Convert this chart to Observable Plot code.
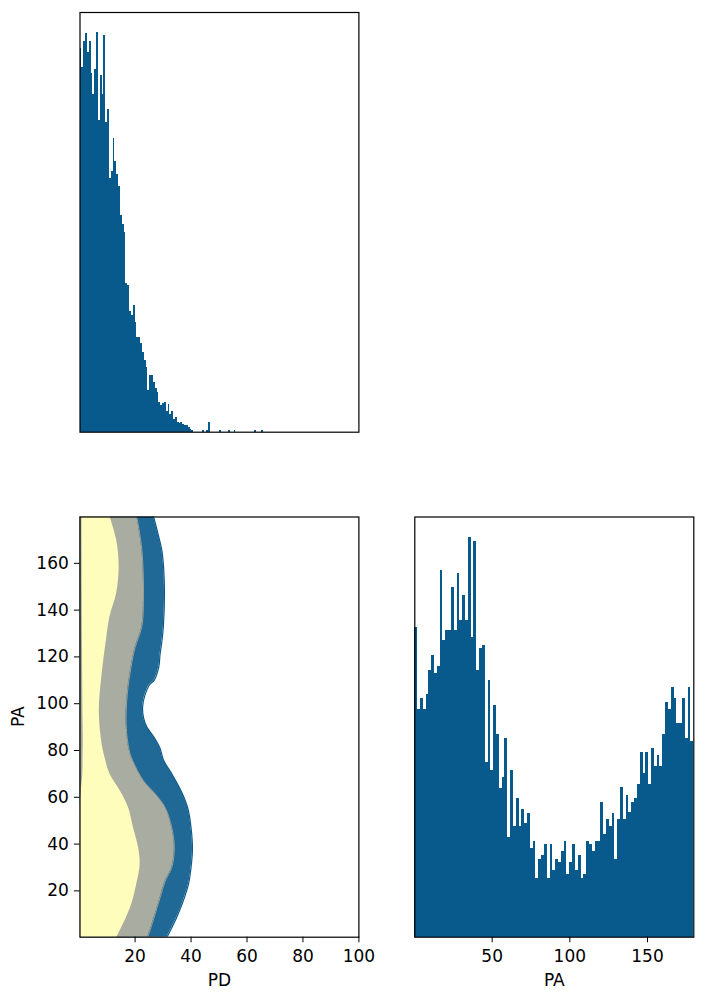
<!DOCTYPE html>
<html><head><meta charset="utf-8">
<script src="https://cdn.jsdelivr.net/npm/d3@7"></script>
<script src="https://cdn.jsdelivr.net/npm/@observablehq/plot@0.6"></script>
<style>
body{margin:0;background:#fff;}
#wrap{position:relative;width:706px;height:1001px;font-family:"DejaVu Sans",sans-serif;}
#wrap > div{position:absolute;}
</style></head><body>
<div id="wrap">
  <div id="p1" style="left:0;top:0"></div>
  <div id="p2" style="left:0;top:500px"></div>
  <div id="p3" style="left:370px;top:500px"></div>
</div>
<script>
// ---- Data ----
// PD histogram: 100 bins between pdRange[0] and pdRange[1] (relative counts)
const pdRange = [0.3, 65.9];
const pdCounts = [383,364,390,398,379,390,358,337,362,399,
311,356,337,396,309,322,253,260,293,270,
257,245,216,207,199,148,146,120,116,126,
110,95,95,89,80,72,65,42,57,57,
50,44,40,30,27,29,30,21,28,18,
21,13,15,10,9,10,8,7,7,5,
3,2,0,0,0,0,0,2,0,2,
10,0,0,0,0,0,2,0,0,0,
0,2,0,0,2,0,0,0,0,0,
0,0,0,0,0,2,0,0,0,2];

// PA histogram: bins between paRange[0] and paRange[1] (relative counts)
const paRange = [0.2, 179.8];
const paCounts = [309,227,238,227,242,266,281,263,270,366,
296,306,306,349,306,363,316,341,316,399,
299,395,266,288,291,174,256,166,231,202,
148,159,198,99,166,110,138,110,127,113,
123,88,95,59,77,81,92,59,92,
67,77,74,85,95,63,74,92,67,81,
59,63,95,92,85,95,95,134,102,117,
110,123,77,117,149,117,141,124,134,138,
152,184,163,184,152,188,170,181,170,202,
234,227,249,238,213,213,238,198,249,195];

// Axis domains and ticks
const pdDomain = [0.3, 100];
const paDomain = [0.2, 179.8];
const pdTicks = [20, 40, 60, 80, 100];
const paTicksY = [20, 40, 60, 80, 100, 120, 140, 160];
const paTicksX = [50, 100, 150];

// Contour levels: PD of the right edge of each filled region, as a function of PA
const outerPA = [0, 8, 15, 23, 30, 38, 47, 55, 62, 70, 76, 81, 86, 90, 94, 99, 104, 108, 110, 116, 121, 126, 133, 147, 158, 166, 172, 180];
const outerPD = [31.3, 34.6, 37.0, 39.1, 40.0, 40.5, 40.0, 38.9, 36.7, 33.1, 30.1, 28.9, 26.6, 24.2, 23.0, 22.7, 23.6, 25.1, 26.8, 28.5, 28.9, 29.5, 30.1, 30.5, 30.2, 29.5, 28.3, 26.6];
const midPA = [0, 8.6, 17, 24, 30, 38.6, 47, 55.7, 61.4, 67, 75.7, 80, 91, 104, 116, 124, 133, 147, 166, 180];
const midPD = [24.5, 26.8, 28.9, 30.7, 33.1, 34.0, 33.1, 30.7, 27.2, 23.0, 19.1, 17.9, 16.8, 17.2, 18.6, 20.0, 22.4, 23.0, 22.4, 20.6];
const innerPA = [0, 5.7, 14.3, 22.9, 31.4, 38.6, 47.1, 55.7, 62.9, 70, 77.1, 84.3, 97.1, 111.4, 125.7, 137.1, 147.1, 158.6, 170, 180];
const innerPD = [13.4, 15.8, 18.8, 20.6, 21.8, 21.2, 19.4, 17.6, 14.6, 11.0, 9.2, 8.0, 7.2, 8.1, 9.6, 11.0, 13.4, 14.3, 13.4, 11.0];
const innerLeftPA = [0, 55, 62, 70, 84, 100, 140, 180];
const innerLeftPD = [0.0, 0.2, 0.7, 1.3, 1.5, 1.3, 1.1, 1.0];

// ---- Styles ----
const barColor = "#08598c";
const outerFill = "#206896", outerEdge = "#0b5a8b";
const midFill = "#a9ada1", midEdge = "#9b9f95";
const innerFill = "#fefdbb";
const FONT = "DejaVu Sans";
const FS = 17;

function bins(counts, range) {
  const n = counts.length, w = (range[1] - range[0]) / n;
  return counts.map((c, i) => ({x0: range[0] + i * w, x1: range[0] + (i + 1) * w, count: c}));
}
const zipRows = (pa, pd) => pa.map((p, i) => ({pa: p, pd: pd[i]}));

const style = {fontFamily: FONT, fontSize: FS + "px", color: "black", overflow: "visible"};

// ---- Top-left: PD histogram ----
const pdBins = bins(pdCounts, pdRange);
const p1 = Plot.plot({
  width: 370, height: 440,
  marginLeft: 79.5, marginRight: 11.6, marginTop: 12, marginBottom: 8.3,
  style,
  x: {domain: pdDomain, axis: null},
  y: {domain: [0, d3.max(pdCounts) * 1.05], axis: null},
  marks: [
    Plot.rectY(pdBins, {x1: "x0", x2: "x1", y: "count", fill: barColor, shapeRendering: "crispEdges"}),
    Plot.frame({stroke: "black", strokeWidth: 1.2})
  ]
});
document.getElementById("p1").appendChild(p1);

// ---- Bottom-left: contour PD vs PA ----
const outerRows = zipRows(outerPA, outerPD);
const midRows = zipRows(midPA, midPD);
const innerRows = zipRows(innerPA, innerPD);
const innerLeftFn = d3.scaleLinear().domain(innerLeftPA).range(innerLeftPD);
innerRows.forEach(r => r.left = innerLeftFn(r.pa));

const p2 = Plot.plot({
  width: 370, height: 501,
  marginLeft: 79.5, marginRight: 11.6, marginTop: 16.5, marginBottom: 64.3,
  style,
  x: {domain: pdDomain},
  y: {domain: paDomain},
  marks: [
    Plot.areaX(outerRows, {y: "pa", x1: 0, x2: "pd", fill: outerFill, curve: "catmull-rom", clip: true}),
    Plot.line(outerRows, {y: "pa", x: "pd", stroke: outerEdge, strokeWidth: 1.2, curve: "catmull-rom", clip: true}),
    Plot.areaX(midRows, {y: "pa", x1: 0, x2: "pd", fill: midFill, curve: "catmull-rom", clip: true}),
    Plot.line(midRows, {y: "pa", x: "pd", stroke: midEdge, strokeWidth: 1, curve: "catmull-rom", clip: true}),
    Plot.areaX(innerRows, {y: "pa", x1: "left", x2: "pd", fill: innerFill, curve: "catmull-rom", clip: true}),
    Plot.axisX({ticks: pdTicks, tickSize: 5.6, tickPadding: 7, fontSize: FS, label: null}),
    Plot.axisY({ticks: paTicksY, tickSize: 5.6, tickPadding: 5.6, fontSize: FS, label: null}),
    Plot.frame({stroke: "black", strokeWidth: 1.2}),
    Plot.text(["PD"], {text: d => d, frameAnchor: "bottom", dy: 49, fontSize: FS}),
    Plot.text(["PA"], {text: d => d, frameAnchor: "left", dx: -61, rotate: -90, fontSize: FS})
  ]
});
document.getElementById("p2").appendChild(p2);

// ---- Bottom-right: PA histogram ----
const paBins = bins(paCounts, paRange);
const p3 = Plot.plot({
  width: 336, height: 501,
  marginLeft: 44.3, marginRight: 12.7, marginTop: 16.5, marginBottom: 64.3,
  style,
  x: {domain: paDomain},
  y: {domain: [0, d3.max(paCounts) * 1.05], axis: null},
  marks: [
    Plot.rectY(paBins, {x1: "x0", x2: "x1", y: "count", fill: barColor, shapeRendering: "crispEdges"}),
    Plot.axisX({ticks: paTicksX, tickSize: 5.6, tickPadding: 7, fontSize: FS, label: null}),
    Plot.frame({stroke: "black", strokeWidth: 1.2}),
    Plot.text(["PA"], {text: d => d, frameAnchor: "bottom", dy: 49, fontSize: FS})
  ]
});
document.getElementById("p3").appendChild(p3);
</script>
</body></html>
